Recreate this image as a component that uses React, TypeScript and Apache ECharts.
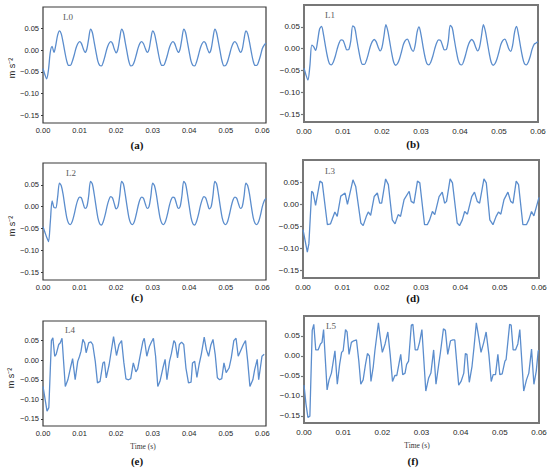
import React, { useEffect, useRef } from "react";
import * as echarts from "echarts";

// ---- data ----
const SAMPLE_STEP_S = 0.0005;

const X_TICKS = [0, 0.01, 0.02, 0.03, 0.04, 0.05, 0.06];
const Y_TICKS = [-0.15, -0.1, -0.05, 0, 0.05];

const PANEL_NAMES = ["L0", "L1", "L2", "L3", "L4", "L5"];
const PANEL_TAGS = ["(a)", "(b)", "(c)", "(d)", "(e)", "(f)"];
const Y_TITLE = "m s\u207B\u00B2";
const X_TITLE = "Time (s)";

// L0: uniformly sampled (0.5 ms)
const accelL0 = [
  -0.042, -0.056, -0.066, -0.045, -0.004, 0.009, -0.005, 0.012, 0.035, 0.045, 0.038,
  0.018, -0.005, -0.025, -0.035, -0.035, -0.026, -0.012, 0.004, 0.015, 0.020, 0.016, 0.004, -0.005, 0.003, 0.027, 0.049, 0.041,
  0.019, -0.004, -0.025, -0.035, -0.036, -0.027, -0.012, 0.004, 0.015, 0.020, 0.016, 0.003, -0.006, 0.003, 0.028, 0.049, 0.041,
  0.018, -0.005, -0.026, -0.036, -0.035, -0.026, -0.011, 0.005, 0.016, 0.020, 0.015, 0.004, -0.005, 0.002, 0.026, 0.045, 0.038,
  0.018, -0.005, -0.025, -0.035, -0.035, -0.026, -0.012, 0.004, 0.015, 0.020, 0.016, 0.004, -0.005, 0.003, 0.027, 0.049, 0.041,
  0.019, -0.004, -0.025, -0.035, -0.036, -0.027, -0.012, 0.004, 0.015, 0.020, 0.016, 0.003, -0.006, 0.003, 0.028, 0.049, 0.040,
  0.018, -0.005, -0.026, -0.036, -0.035, -0.026, -0.011, 0.005, 0.016, 0.020, 0.015, 0.004, -0.005, 0.002, 0.026, 0.045, 0.038,
  0.018, -0.005, -0.025, -0.035, -0.035, -0.026, -0.012, 0.004, 0.012, 0.016,
];

// L1: uniformly sampled (0.5 ms)
const accelL1 = [
  -0.045, -0.060, -0.072, -0.040, 0.008, 0.004, -0.004, 0.018, 0.045, 0.051,
  0.032, 0.006, -0.018, -0.034, -0.037, -0.031, -0.018, -0.001, 0.013, 0.020, 0.019, 0.008, -0.003, -0.002, 0.018, 0.052, 0.048,
  0.023, -0.003, -0.025, -0.036, -0.036, -0.027, -0.012, 0.005, 0.016, 0.021, 0.016, 0.004, -0.005, 0.003, 0.029, 0.055,
  0.040, 0.015, -0.011, -0.031, -0.038, -0.034, -0.023, -0.007, 0.010, 0.019, 0.022, 0.013, 0.000, -0.006, 0.008, 0.038,
  0.050,
  0.032, 0.006, -0.018, -0.034, -0.037, -0.031, -0.018, -0.001, 0.013, 0.020, 0.019, 0.008, -0.003, -0.002, 0.018, 0.053, 0.048,
  0.023, -0.003, -0.025, -0.036, -0.037, -0.027, -0.012, 0.005, 0.016, 0.021, 0.016, 0.004, -0.005, 0.003, 0.029, 0.055,
  0.040, 0.015, -0.011, -0.031, -0.038, -0.034, -0.023, -0.007, 0.010, 0.019, 0.022, 0.013, 0.000, -0.006, 0.008, 0.038,
  0.051,
  0.032, 0.006, -0.018, -0.034, -0.037, -0.031, -0.018, -0.001, 0.010, 0.013, 0.016,
];

// L2: uniformly sampled (0.5 ms)
const accelL2 = [
  -0.046, -0.058, -0.070, -0.080, -0.035, 0.013, -0.002, -0.003, 0.022, 0.054,
  0.048, 0.028, 0.000, -0.025, -0.038, -0.041, -0.034, -0.019, 0.000, 0.015, 0.022, 0.020, 0.007, -0.004, 0.000, 0.025, 0.058,
  0.052, 0.029, 0.001, -0.025, -0.039, -0.042, -0.034, -0.019, 0.000, 0.015, 0.023, 0.020, 0.007, -0.005, 0.000, 0.026, 0.058,
  0.052, 0.028, 0.000, -0.025, -0.038, -0.041, -0.034, -0.018, 0.001, 0.016, 0.022, 0.019, 0.006, -0.004, 0.000, 0.024, 0.054,
  0.048, 0.028, 0.000, -0.025, -0.038, -0.041, -0.034, -0.019, 0.000, 0.015, 0.022, 0.020, 0.007, -0.004, 0.000, 0.025, 0.058,
  0.052, 0.029, 0.001, -0.025, -0.039, -0.042, -0.034, -0.019, 0.000, 0.015, 0.023, 0.020, 0.007, -0.005, 0.000, 0.026, 0.058,
  0.052, 0.028, 0.000, -0.025, -0.038, -0.041, -0.034, -0.018, 0.001, 0.016, 0.022, 0.019, 0.006, -0.004, 0.000, 0.024, 0.054,
  0.048, 0.028, 0.000, -0.025, -0.038, -0.041, -0.034, -0.019, 0.000, 0.013, 0.019,
];

// L3: vertices (time in ms)
const timeL3Ms = [
  0, 1.1, 1.5, 2.2, 2.6, 3.2, 4.3, 4.9,
  6.2, 7.0, 8.1, 8.7, 9.6, 10.7, 11.3,
  12.7, 13.4, 14.7, 15.3, 16.1, 16.6, 17.2, 18.1, 18.9, 19.5, 20.0,
  21.0, 21.7, 22.7, 23.4, 24.2, 24.8, 25.7, 27.0, 27.5, 28.2,
  29.1, 29.7, 30.9, 31.6, 32.2, 32.9, 33.5, 34.6, 35.4, 36.0, 36.5,
  37.4, 38.0, 39.2, 39.8, 40.5, 41.1, 41.8, 42.9, 43.6, 44.3, 44.9,
  46.0, 46.6, 47.5, 48.3, 49.1, 49.7, 50.3, 51.1, 52.1, 52.8, 53.4,
  54.2, 54.8, 55.9, 56.8, 57.4, 58.1, 58.7, 60.0,
];
const accelL3 = [
  -0.058, -0.109, -0.090, 0.029, 0.025, -0.003, 0.052, 0.048,
  -0.047, -0.045, -0.018, -0.028, 0.018, 0.025, -0.001,
  0.055, 0.040, -0.043, -0.049, -0.028, -0.018, -0.026, 0.017, 0.025, 0.002, 0.002,
  0.057, 0.044, -0.036, -0.045, -0.024, -0.028, 0.010, 0.029, 0.006, 0.002,
  0.052, 0.048, -0.047, -0.047, -0.036, -0.017, -0.024, 0.017, 0.027, 0.002, 0.006,
  0.057, 0.048, -0.043, -0.049, -0.036, -0.017, -0.023, 0.017, 0.027, 0.006, 0.002,
  0.057, 0.048, -0.036, -0.047, -0.028, -0.018, -0.023, 0.010, 0.027, 0.006, 0.002,
  0.052, 0.044, -0.047, -0.047, -0.036, -0.017, -0.027, 0.015,
];

// L4: vertices (time in ms)
const timeL4Ms = [
  0, 1.1, 1.6, 2.3, 2.7, 3.2, 3.6, 4.3, 4.7, 5.2,
  6.1, 6.8, 7.5, 8.1, 8.8, 9.5, 10.0, 10.4, 10.9, 11.4,
  11.8, 12.5, 13.1, 13.6, 14.3, 14.9, 15.6, 16.4, 16.8, 17.3,
  18.1, 18.6, 19.3, 20.1, 20.8, 21.5, 22.1, 22.7, 23.4, 24.0,
  24.7, 25.4, 25.9, 26.5, 27.3, 27.7, 28.4, 29.1, 29.6, 30.2,
  30.8, 31.4, 32.0, 32.8, 33.4, 33.9, 34.6, 35.1, 35.8, 36.2,
  36.8, 37.3, 37.9, 38.5, 39.1, 39.8, 40.5, 40.9, 41.5, 42.1,
  42.7, 43.3, 44.1, 44.7, 45.3, 45.9, 46.5, 47.1, 47.7, 48.3,
  48.9, 49.5, 50.1, 50.9, 51.5, 52.2, 52.8, 53.4, 54.0, 54.8,
  55.4, 56.0, 56.6, 57.4, 57.9, 58.6, 59.0, 59.9, 60.5,
];
const accelL4 = [
  -0.067, -0.130, -0.121, 0.050, 0.057, 0.010, 0.015, 0.040, 0.044, 0.056,
  -0.067, -0.050, -0.020, 0.004, -0.050, -0.003, 0.010, 0.023, 0.053, 0.044,
  0.019, 0.044, 0.047, 0.040, -0.003, -0.058, -0.054, -0.007, -0.004, -0.045,
  -0.011, 0.019, 0.060, 0.012, 0.040, 0.050, -0.005, -0.048, -0.050, -0.047,
  -0.007, -0.030, -0.022, 0.008, 0.047, 0.056, 0.010, 0.035, 0.045, 0.056,
  0.010, -0.067, -0.054, -0.020, 0.002, -0.050, -0.003, 0.016, 0.050, 0.044,
  0.006, 0.040, 0.046, 0.040, -0.020, -0.058, -0.056, -0.007, -0.003, -0.044,
  -0.011, 0.015, 0.059, 0.027, 0.010, 0.038, 0.053, 0.015, -0.045, -0.050,
  -0.047, -0.007, -0.032, -0.020, 0.006, 0.050, 0.056, 0.010, 0.023, 0.040,
  0.050, -0.003, -0.067, -0.050, -0.024, 0.002, -0.050, 0.010, 0.015,
];

// L5: vertices (time in ms)
const timeL5Ms = [
  0, 0.5, 1.0, 1.5, 2.1, 2.5, 3.0, 3.6, 4.2, 4.6,
  5.0, 5.9, 6.4, 7.0, 7.9, 8.5, 9.1, 9.6, 10.0, 10.6,
  11.0, 11.5, 12.1, 12.7, 13.4, 14.0, 14.5, 15.1, 15.7, 16.2,
  16.7, 17.1, 17.7, 18.1, 19.0, 19.4, 20.0, 20.7, 21.4, 22.0,
  22.6, 23.2, 23.7, 24.3, 24.7, 25.2, 25.8, 26.2, 26.7, 27.4,
  27.8, 28.4, 29.0, 29.5, 30.1, 31.1, 31.8, 32.4, 33.1, 33.7,
  34.4, 34.8, 35.6, 36.1, 36.7, 37.4, 38.0, 38.5, 39.5, 40.1,
  40.8, 41.2, 41.6, 42.2, 42.9, 43.4, 44.0, 44.6, 45.2, 45.9,
  46.5, 47.2, 47.8, 48.3, 48.9, 49.5, 50.0, 50.6, 51.3, 51.6,
  52.5, 52.9, 53.4, 54.0, 54.6, 55.1, 56.1, 56.8, 57.4, 58.1,
  58.7, 59.3, 59.8, 60.0,
];
const accelL5 = [
  -0.073, -0.120, -0.154, -0.151, 0.064, 0.079, 0.015, 0.015, 0.030, 0.034,
  0.066, -0.085, -0.060, -0.043, 0.013, -0.071, -0.021, 0.009, 0.013, 0.066,
  0.060, 0.004, 0.034, 0.038, 0.040, -0.013, -0.071, -0.060, -0.021, 0.006,
  0.000, -0.064, -0.026, 0.013, 0.083, 0.051, 0.009, 0.030, 0.060, 0.004,
  -0.064, -0.049, -0.049, -0.017, 0.004, -0.047, -0.043, -0.021, -0.013, 0.077,
  0.079, 0.015, 0.015, 0.034, 0.066, -0.088, -0.056, -0.043, 0.015, -0.071,
  -0.021, 0.006, 0.068, 0.064, 0.004, 0.038, 0.040, 0.040, -0.073, -0.064,
  -0.043, 0.006, 0.004, -0.066, -0.026, 0.021, 0.083, 0.047, 0.009, 0.034,
  0.060, 0.004, -0.064, -0.047, -0.047, 0.004, -0.047, -0.045, -0.013, -0.009,
  0.079, 0.077, 0.015, 0.015, 0.030, 0.066, -0.088, -0.060, -0.043, 0.017,
  -0.071, -0.038, 0.013, 0.013,
];

// ---- helpers ----
const uniform = (vals: number[]) => vals.map((v, i) => [i * SAMPLE_STEP_S, v]);
const paired = (tMs: number[], vals: number[]) => tMs.map((t, i) => [t / 1000, vals[i]]);
const fmt = (v: number) => (v < -1e-9 ? "\u2212" : "") + Math.abs(v).toFixed(2);

const SANS = "'Liberation Sans', Arial, Helvetica, sans-serif";
const SERIF = "'Liberation Serif', 'Times New Roman', Times, serif";
const LINE_COLOR = "#5b8dcd";

type Panel = {
  grid: { left: number; top: number; width: number; height: number };
  xMax: number;
  leftCol: boolean;
  data: number[][];
  smooth: number | boolean;
  namePos: [number, number];
  tagPos: [number, number];
  yTitle?: [number, number];
  xTitle?: [number, number];
};

const PANELS: Panel[] = [
  { grid: { left: 43, top: 7, width: 223, height: 116 }, xMax: 0.061, leftCol: true, data: uniform(accelL0), smooth: 0.3, namePos: [68, 17], tagPos: [137, 145], yTitle: [12, 68] },
  { grid: { left: 304, top: 5, width: 234, height: 117 }, xMax: 0.06, leftCol: false, data: uniform(accelL1), smooth: 0.3, namePos: [330, 15], tagPos: [413, 144] },
  { grid: { left: 43, top: 163, width: 223, height: 117 }, xMax: 0.061, leftCol: true, data: uniform(accelL2), smooth: 0.3, namePos: [71, 173], tagPos: [137, 297], yTitle: [12, 226] },
  { grid: { left: 303, top: 160, width: 236, height: 118 }, xMax: 0.06, leftCol: false, data: paired(timeL3Ms, accelL3), smooth: false, namePos: [330, 171], tagPos: [413, 298] },
  { grid: { left: 43, top: 321, width: 223, height: 105 }, xMax: 0.061, leftCol: true, data: paired(timeL4Ms, accelL4), smooth: false, namePos: [70, 330], tagPos: [137, 461], yTitle: [11, 378], xTitle: [143, 446] },
  { grid: { left: 304, top: 316, width: 235, height: 107 }, xMax: 0.06, leftCol: false, data: paired(timeL5Ms, accelL5), smooth: false, namePos: [331, 326], tagPos: [413, 461], xTitle: [417, 445] },
];

export default function App() {
  const ref = useRef<HTMLDivElement>(null);

  useEffect(() => {
    const el = ref.current;
    if (!el) return;
    const chart = echarts.init(el, undefined, { renderer: "svg" });

    const grids = PANELS.map((p) => ({
      ...p.grid,
      show: true,
      backgroundColor: "#ffffff",
      borderColor: p.leftCol ? "#3a3a3a" : "#777777",
      borderWidth: p.leftCol ? 1.2 : 2,
      containLabel: false,
    }));

    const xAxes = PANELS.map((p, i) => ({
      type: "value",
      gridIndex: i,
      min: 0,
      max: p.xMax,
      axisLine: { show: false },
      splitLine: { show: false },
      axisTick: { show: false },
      axisLabel: {
        customValues: X_TICKS,
        formatter: (v: number) => fmt(v),
        fontFamily: SANS,
        fontSize: p.leftCol ? 7.5 : 8,
        color: "#262626",
        margin: p.leftCol ? 3 : 5,
      },
    }));

    const yAxes = PANELS.map((p, i) => ({
      type: "value",
      gridIndex: i,
      min: -0.168,
      max: 0.1,
      axisLine: { show: false },
      splitLine: { show: false },
      axisTick: {
        show: true,
        customValues: Y_TICKS,
        length: p.leftCol ? 2 : 3,
        lineStyle: { color: p.leftCol ? "#3a3a3a" : "#777777", width: p.leftCol ? 1 : 1.2 },
      },
      axisLabel: {
        customValues: Y_TICKS,
        formatter: (v: number) => fmt(v),
        fontFamily: SANS,
        fontSize: p.leftCol ? 7.5 : 8,
        color: "#262626",
        margin: 4,
      },
    }));

    const series = PANELS.map((p, i) => ({
      type: "line",
      xAxisIndex: i,
      yAxisIndex: i,
      data: p.data,
      smooth: p.smooth,
      showSymbol: false,
      symbol: "none",
      clip: true,
      lineStyle: { color: LINE_COLOR, width: 1.3 },
      z: 3,
    }));

    const graphics: any[] = [];
    PANELS.forEach((p, i) => {
      graphics.push({
        type: "text",
        x: p.namePos[0],
        y: p.namePos[1],
        z: 10,
        style: {
          text: PANEL_NAMES[i],
          fontFamily: SERIF,
          fontSize: 9,
          fill: "#5a5a5a",
          align: "center",
          verticalAlign: "middle",
        },
      });
      graphics.push({
        type: "text",
        x: p.tagPos[0],
        y: p.tagPos[1],
        style: {
          text: PANEL_TAGS[i],
          fontFamily: SERIF,
          fontSize: 11,
          fontWeight: "bold",
          fill: "#111111",
          align: "center",
          verticalAlign: "middle",
        },
      });
      if (p.yTitle) {
        graphics.push({
          type: "text",
          x: p.yTitle[0],
          y: p.yTitle[1],
          rotation: Math.PI / 2,
          style: {
            text: Y_TITLE,
            fontFamily: SANS,
            fontSize: 9,
            fill: "#262626",
            align: "center",
            verticalAlign: "middle",
          },
        });
      }
      if (p.xTitle) {
        graphics.push({
          type: "text",
          x: p.xTitle[0],
          y: p.xTitle[1],
          style: {
            text: X_TITLE,
            fontFamily: SERIF,
            fontSize: 7.5,
            fill: "#333333",
            align: "center",
            verticalAlign: "middle",
          },
        });
      }
    });

    chart.setOption({
      animation: false,
      backgroundColor: "#ffffff",
      grid: grids,
      xAxis: xAxes,
      yAxis: yAxes,
      series,
      graphic: graphics,
    });

    return () => chart.dispose();
  }, []);

  return (
    <div
      ref={ref}
      style={{ position: "fixed", left: 0, top: 0, width: 550, height: 471, background: "#ffffff" }}
    />
  );
}
